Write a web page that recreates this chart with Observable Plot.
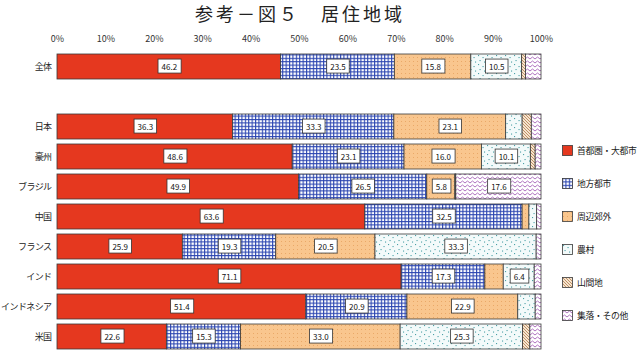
<!DOCTYPE html>
<html>
<head>
<meta charset="utf-8">
<script src="https://cdn.jsdelivr.net/npm/d3@7"></script>
<script src="https://cdn.jsdelivr.net/npm/@observablehq/plot@0.6"></script>
<style>
  html, body { margin: 0; padding: 0; background: #fff; width: 640px; height: 357px; overflow: hidden; }
  body { position: relative; font-family: "Noto Sans CJK JP", "Noto Sans", sans-serif; }
  #title { position: absolute; top: 2px; left: 0; width: 600px; text-align: center; font-size: 18px; letter-spacing: 3px; color: #222; line-height: 22px; }
  #chart { position: absolute; top: 0; left: 0; }
  #chart g[aria-label="y-axis tick label"] text { letter-spacing: -0.6px; }
  #legend { position: absolute; left: 562px; top: 0; font-size: 8.8px; letter-spacing: -0.3px; color: #222; }
  .li { position: absolute; left: 0; display: flex; align-items: center; white-space: nowrap; }
  .li svg { margin-right: 4px; }
</style>
</head>
<body>
<svg width="0" height="0" style="position:absolute">
  <defs>
    <pattern id="p-blue" width="3.4" height="3.4" patternUnits="userSpaceOnUse">
      <rect width="3.4" height="3.4" fill="#ffffff"/>
      <path d="M0 0.55H3.4M0.55 0V3.4" stroke="#2a44b0" stroke-width="1.1"/>
    </pattern>
    <pattern id="p-orange" width="4" height="4" patternUnits="userSpaceOnUse">
      <rect width="4" height="4" fill="#f9c68e"/>
      <rect x="1" y="1" width="1" height="1" fill="#e9a868"/>
    </pattern>
    <pattern id="p-rural" width="9" height="9" patternUnits="userSpaceOnUse">
      <rect width="9" height="9" fill="#f3fafa"/>
      <rect x="1" y="1" width="1.1" height="1.1" fill="#4aa0a6"/>
      <rect x="5.5" y="3" width="1.1" height="1.1" fill="#4aa0a6"/>
      <rect x="2.5" y="6" width="1.1" height="1.1" fill="#4aa0a6"/>
      <rect x="7" y="7.5" width="1.1" height="1.1" fill="#4aa0a6"/>
    </pattern>
    <pattern id="p-mount" width="3" height="3" patternUnits="userSpaceOnUse">
      <rect width="3" height="3" fill="#f6e4cf"/>
      <path d="M-1 -1L4 4M-1 2L1 4M2 -1L4 1" stroke="#b9885a" stroke-width="0.9"/>
    </pattern>
    <pattern id="p-purple" width="5" height="4" patternUnits="userSpaceOnUse">
      <rect width="5" height="4" fill="#ffffff"/>
      <path d="M0 3L2.5 1L5 3" stroke="#9a4fb0" stroke-width="0.8" fill="none"/>
    </pattern>
  </defs>
</svg>
<div id="title">参考－図５　居住地域</div>
<div id="chart"></div>
<div id="legend"></div>
<script>
const categories = ["全体","日本","豪州","ブラジル","中国","フランス","インド","インドネシア","米国"];
const series = ["首都圏・大都市","地方都市","周辺郊外","農村","山間地","集落・その他"];
const v_metro   = [46.2, 36.3, 48.6, 49.9, 63.6, 25.9, 71.1, 51.4, 22.6];
const v_local   = [23.5, 33.3, 23.1, 26.5, 32.5, 19.3, 17.3, 20.9, 15.3];
const v_suburb  = [15.8, 23.1, 16.0,  5.8,  1.4, 20.5,  3.8, 22.9, 33.0];
const v_rural   = [10.5,  3.4, 10.1,  0.1,  1.6, 33.3,  6.4,  3.6, 25.3];
const v_mount   = [ 0.8,  1.9,  1.0,  0.1,  0.0,  0.0,  0.0,  0.0,  1.5];
const v_other   = [ 3.2,  2.0,  1.2, 17.6,  0.9,  1.0,  1.4,  1.2,  2.3];
const seriesValues = [v_metro, v_local, v_suburb, v_rural, v_mount, v_other];
const fills = ["#e5381f", "url(#p-blue)", "url(#p-orange)", "url(#p-rural)", "url(#p-mount)", "url(#p-purple)"];
const gapKey = "__gap";
const yDomain = [categories[0], gapKey, ...categories.slice(1)];

const data = [];
categories.forEach((c, i) => {
  series.forEach((s, j) => {
    data.push({category: c, series: s, value: seriesValues[j][i], fill: fills[j]});
  });
});

const plot = Plot.plot({
  width: 640,
  height: 360,
  marginTop: 45,
  marginBottom: 3,
  marginLeft: 57,
  marginRight: 99,
  style: {fontFamily: '"Noto Sans CJK JP", sans-serif', background: "transparent"},
  x: {domain: [0, 100], axis: null},
  y: {domain: yDomain, padding: 0.18, axis: null},
  color: {type: "identity"},
  marks: [
    Plot.axisX({anchor: "top", ticks: d3.range(0, 101, 10), tickSize: 0, tickPadding: 4,
      tickFormat: d => d + "%", fontSize: 9, color: "#333", label: null}),
    Plot.axisY({anchor: "left", tickSize: 0, tickPadding: 6, fontSize: 9, color: "#222",
      tickFormat: d => d === gapKey ? "" : d, label: null}),
    Plot.barX(data, Plot.stackX({x: "value", y: "category", z: "series", order: null,
      fill: "fill", stroke: "#3a3a3a", strokeWidth: 0.8, inset: 0})),
    Plot.text(data, Plot.stackX({x: "value", y: "category", z: "series", order: null,
      text: d => d.value >= 5 ? d.value.toFixed(1) : "", fontSize: 8, fill: "#111"}))
  ]
});
document.getElementById("chart").appendChild(plot);

// white boxes behind the value labels
d3.select(plot).selectAll('g[aria-label="text"] text').each(function() {
  if (!this.textContent) return;
  const b = this.getBBox();
  const tr = this.getAttribute("transform");
  const r = document.createElementNS("http://www.w3.org/2000/svg", "rect");
  r.setAttribute("x", b.x - 3.5);
  r.setAttribute("y", b.y - 1.5);
  r.setAttribute("width", b.width + 7);
  r.setAttribute("height", b.height + 3);
  r.setAttribute("fill", "#fff");
  r.setAttribute("stroke", "#333");
  r.setAttribute("stroke-width", "0.8");
  if (tr) r.setAttribute("transform", tr);
  this.parentNode.insertBefore(r, this);
});

// legend
const legend = document.getElementById("legend");
series.forEach((s, j) => {
  const div = document.createElement("div");
  div.className = "li";
  div.style.top = (144 + j * 33) + "px";
  div.innerHTML = `<svg width="11" height="11"><rect x="0.5" y="0.5" width="10" height="10" fill="${fills[j]}" stroke="#3a3a3a" stroke-width="0.8"/></svg><span>${s}</span>`;
  legend.appendChild(div);
});
</script>
</body>
</html>
